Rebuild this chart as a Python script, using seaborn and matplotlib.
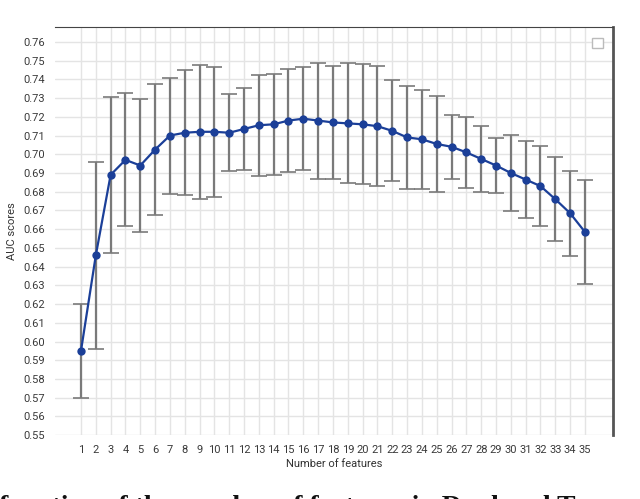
import numpy as np
import pandas as pd
import seaborn as sns
import matplotlib.pyplot as plt
from matplotlib.patches import Patch

n_features = list(range(1, 36))
auc_mean = [0.595, 0.646, 0.689, 0.697, 0.694, 0.7025, 0.710, 0.7115, 0.712, 0.712,
            0.7115, 0.7135, 0.7155, 0.716, 0.718, 0.719, 0.718, 0.717, 0.7165, 0.716,
            0.715, 0.7125, 0.709, 0.708, 0.7055, 0.704, 0.701, 0.6975, 0.694, 0.690,
            0.6865, 0.683, 0.676, 0.6685, 0.6585]
auc_std = [0.025, 0.050, 0.0415, 0.0355, 0.0355, 0.035, 0.031, 0.0335, 0.0357, 0.0348,
           0.0207, 0.022, 0.027, 0.027, 0.0274, 0.0275, 0.031, 0.030, 0.032, 0.032,
           0.032, 0.027, 0.0277, 0.0264, 0.0255, 0.017, 0.019, 0.0175, 0.0145, 0.0205,
           0.0205, 0.0215, 0.0224, 0.0226, 0.0278]
y_ticks = [round(0.55 + 0.01 * i, 2) for i in range(22)]

df = pd.DataFrame({"features": n_features, "auc": auc_mean, "std": auc_std})

sns.set_style("white")
plt.rcParams["font.family"] = ["Roboto", "DejaVu Sans"]

fig = plt.figure(figsize=(6.4, 4.99), dpi=100)
ax = fig.add_axes([0.086, 0.128, 0.872, 0.818])

# error bars first so the blue line sits on top
ax.errorbar(df["features"], df["auc"], yerr=df["std"], fmt="none",
            ecolor="#7a7a7a", elinewidth=1.6, capsize=5.5, capthick=1.2, zorder=2)
sns.lineplot(data=df, x="features", y="auc", ax=ax, color="#1b3f98",
             marker="o", markersize=6, markeredgewidth=0, linewidth=1.6, zorder=3)

ax.set_xlim(-0.75, 36.9)
ax.set_ylim(0.55, 0.768)
ax.set_xticks(n_features)
ax.set_xticklabels([str(v) for v in n_features])
ax.set_yticks(y_ticks)
ax.set_yticklabels([f"{v:.2f}" for v in y_ticks])
ax.grid(True, color="#e4e4e4", linewidth=1.0, zorder=0)
ax.set_axisbelow(True)
ax.tick_params(axis="both", labelsize=8, labelcolor="#3a3a3a", color="#555555",
               length=4, width=1, direction="out", pad=3)

for side in ["left", "bottom"]:
    ax.spines[side].set_visible(False)
ax.spines["top"].set_color("#444444")
ax.spines["top"].set_linewidth(0.8)
ax.spines["right"].set_color("#555555")
ax.spines["right"].set_linewidth(2)

ax.set_xlabel("Number of features", fontsize=8, color="#333333", labelpad=3)
ax.set_ylabel("AUC scores", fontsize=8, color="#333333", labelpad=5)

ax.legend(handles=[Patch(facecolor="white", edgecolor="#bbbbbb")], labels=[""],
          loc="upper right", frameon=False, handlelength=0.8, handleheight=0.8,
          borderaxespad=0.3, handletextpad=0)

# caption of the page, cut by the lower edge as in the source
fig.text(-0.002, 0.008, "function of the number of features in Dual and T",
         family=["Liberation Serif", "DejaVu Serif"], fontweight="bold",
         fontsize=20, va="top", ha="left", color="#111111")

fig.savefig("out.png", dpi=100)
